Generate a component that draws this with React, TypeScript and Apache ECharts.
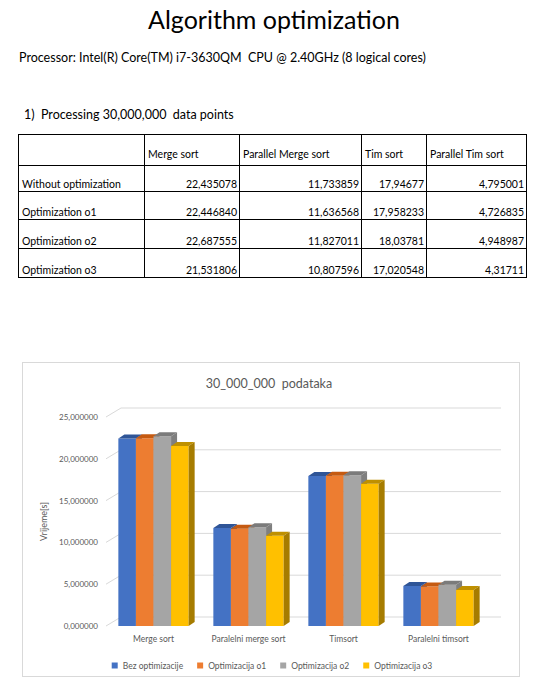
import { useEffect, useRef } from 'react';
import * as echarts from 'echarts';

const algorithms = ['Merge sort', 'Parallel Merge sort', 'Tim sort', 'Parallel Tim sort'];
const variants = ['Without optimization', 'Optimization o1', 'Optimization o2', 'Optimization o3'];
const tableValues = [
  ['22,435078', '11,733859', '17,94677', '4,795001'],
  ['22,446840', '11,636568', '17,958233', '4,726835'],
  ['22,687555', '11,827011', '18,03781', '4,948987'],
  ['21,531806', '10,807596', '17,020548', '4,31711'],
];

const categories = ['Merge sort', 'Paralelni merge sort', 'Timsort', 'Paralelni timsort'];
const seriesNames = ['Bez optimizacije', 'Optimizacija o1', 'Optimizacija o2', 'Optimizacija o3'];
const bez = [22435078, 11733859, 17946770, 4795001];
const o1 = [22446840, 11636568, 17958233, 4726835];
const o2 = [22687555, 11827011, 18037810, 4948987];
const o3 = [21531806, 10807596, 17020548, 4317110];
const yTicks = [0, 5000000, 10000000, 15000000, 20000000, 25000000];

const fronts = ['#4472C4', '#ED7D31', '#A5A5A5', '#FFC000'];
const tops = ['#2F5597', '#C55A11', '#7B7B7B', '#BF9000'];
const sides = ['#2F5597', '#B9550F', '#7F7F7F', '#A67C00'];

const colW = [126, 95, 122, 65, 100];
const rowH = [31, 26, 28, 29, 29];

const Chart = () => {
  const ref = useRef<HTMLDivElement>(null);

  useEffect(() => {
    if (!ref.current) return;
    const chart = echarts.init(ref.current, undefined, { renderer: 'svg' });
    const all = [bez, o1, o2, o3];

    const barSeries = all.map((vals, si) => ({
      name: seriesNames[si],
      type: 'custom',
      itemStyle: { color: fronts[si] },
      data: vals.map((v, i) => [i, v]),
      renderItem: (params: any, api: any) => {
        const ci = api.value(0);
        const v = api.value(1);
        const top = api.coord([ci, v]);
        const base = api.coord([ci, 0]);
        const catW = api.size([1, 0])[0];
        const bw = (catW * 0.74) / 4;
        const x = top[0] - (bw * 4) / 2 + si * bw;
        const y = top[1];
        const h = base[1] - y;
        const dx = 6;
        const dy = 4;
        return {
          type: 'group',
          children: [
            { type: 'rect', shape: { x, y, width: bw, height: h }, style: { fill: fronts[si] } },
            {
              type: 'polygon',
              shape: { points: [[x, y], [x + dx, y - dy], [x + bw + dx, y - dy], [x + bw, y]] },
              style: { fill: tops[si] },
            },
            {
              type: 'polygon',
              shape: { points: [[x + bw, y], [x + bw + dx, y - dy], [x + bw + dx, base[1] - dy], [x + bw, base[1]]] },
              style: { fill: sides[si] },
            },
          ],
        };
      },
    }));

    // back wall grid lines with floor diagonals
    const gridSeries = {
      name: 'grid',
      type: 'custom',
      silent: true,
      z: 0,
      data: yTicks.map((t) => [0, t]),
      renderItem: (params: any, api: any) => {
        const p = api.coord([0, api.value(1)]);
        const catW = api.size([1, 0])[0];
        const x0 = p[0] - catW / 2;
        const x1 = x0 + catW * 4;
        const y = p[1];
        return {
          type: 'group',
          children: [
            { type: 'line', shape: { x1: x0, y1: y, x2: x0 + 15, y2: y - 9 }, style: { stroke: '#d9d9d9', lineWidth: 1 } },
            { type: 'line', shape: { x1: x0 + 15, y1: y - 9, x2: x1 + 15, y2: y - 9 }, style: { stroke: '#d9d9d9', lineWidth: 1 } },
          ],
        };
      },
    };

    chart.setOption({
      animation: false,
      textStyle: { fontFamily: 'Lato' },
      title: {
        text: '30_000_000  podataka',
        left: 241,
        textAlign: 'center',
        top: 9,
        textStyle: { fontSize: 12.5, fontWeight: 'normal', color: '#595959', fontFamily: 'Lato' },
      },
      legend: {
        data: seriesNames,
        top: 293,
        left: 'center',
        icon: 'rect',
        itemWidth: 6,
        itemHeight: 6,
        itemGap: 14,
        textStyle: { fontSize: 8.5, color: '#595959' },
      },
      grid: { left: 83, right: 35, top: 54, bottom: 52 },
      xAxis: {
        type: 'category',
        data: categories,
        axisLine: { show: false },
        axisTick: { show: false },
        axisLabel: { fontSize: 8.5, color: '#595959', margin: 8, interval: 0 },
      },
      yAxis: {
        type: 'value',
        min: 0,
        max: 25000000,
        interval: 5000000,
        name: 'Vrijeme[s]',
        nameLocation: 'middle',
        nameGap: 42,
        nameTextStyle: { fontSize: 9, color: '#595959' },
        splitLine: { show: false },
        axisLabel: {
          fontSize: 8,
          color: '#595959',
          margin: 8,
          formatter: (v: number) => `${v / 1000000},000000`,
        },
      },
      series: [gridSeries, ...barSeries],
    });
    return () => chart.dispose();
  }, []);

  return <div ref={ref} style={{ width: 498, height: 315 }} />;
};

const cell = (w: number, align: 'left' | 'right') => ({
  width: w,
  boxSizing: 'border-box' as const,
  border: '1px solid #000',
  padding: '0 2px 1px 3px',
  verticalAlign: 'bottom' as const,
  textAlign: align,
  fontSize: 10.5,
  whiteSpace: 'nowrap' as const,
  overflow: 'hidden' as const,
});

export default function App() {
  return (
    <div style={{ position: 'absolute', left: 0, top: 0, width: 548, height: 687, background: '#fff', fontFamily: 'Lato', color: '#000' }}>
      <div style={{ position: 'absolute', left: 0, width: 548, top: 4, textAlign: 'center', fontSize: 25 }}>Algorithm optimization</div>
      <div style={{ position: 'absolute', left: 19, top: 50, fontSize: 12.5 }}>
        Processor: Intel(R) Core(TM) i7-3630QM&nbsp; CPU @ 2.40GHz (8 logical cores)
      </div>
      <div style={{ position: 'absolute', left: 24, top: 107, fontSize: 12.5 }}>
        1)&nbsp;&nbsp;Processing 30,000,000&nbsp; data points
      </div>
      <table style={{ position: 'absolute', left: 18, top: 134, borderCollapse: 'collapse', tableLayout: 'fixed', width: 509 }}>
        <colgroup>
          {colW.map((w, i) => (
            <col key={i} style={{ width: w }} />
          ))}
        </colgroup>
        <tbody>
          <tr style={{ height: rowH[0] }}>
            <td style={cell(colW[0], 'left')}></td>
            {algorithms.map((a, i) => (
              <td key={a} style={{ ...cell(colW[i + 1], 'left'), paddingBottom: 5 }}>{a}</td>
            ))}
          </tr>
          {variants.map((v, r) => (
            <tr key={v} style={{ height: rowH[r + 1] }}>
              <td style={cell(colW[0], 'left')}>{v}</td>
              {tableValues[r].map((t, i) => (
                <td key={i} style={cell(colW[i + 1], 'right')}>{t}</td>
              ))}
            </tr>
          ))}
        </tbody>
      </table>
      <div style={{ position: 'absolute', left: 22, top: 362, width: 498, height: 315, border: '1px solid #d9d9d9', boxSizing: 'border-box' }}>
        <Chart />
      </div>
    </div>
  );
}
